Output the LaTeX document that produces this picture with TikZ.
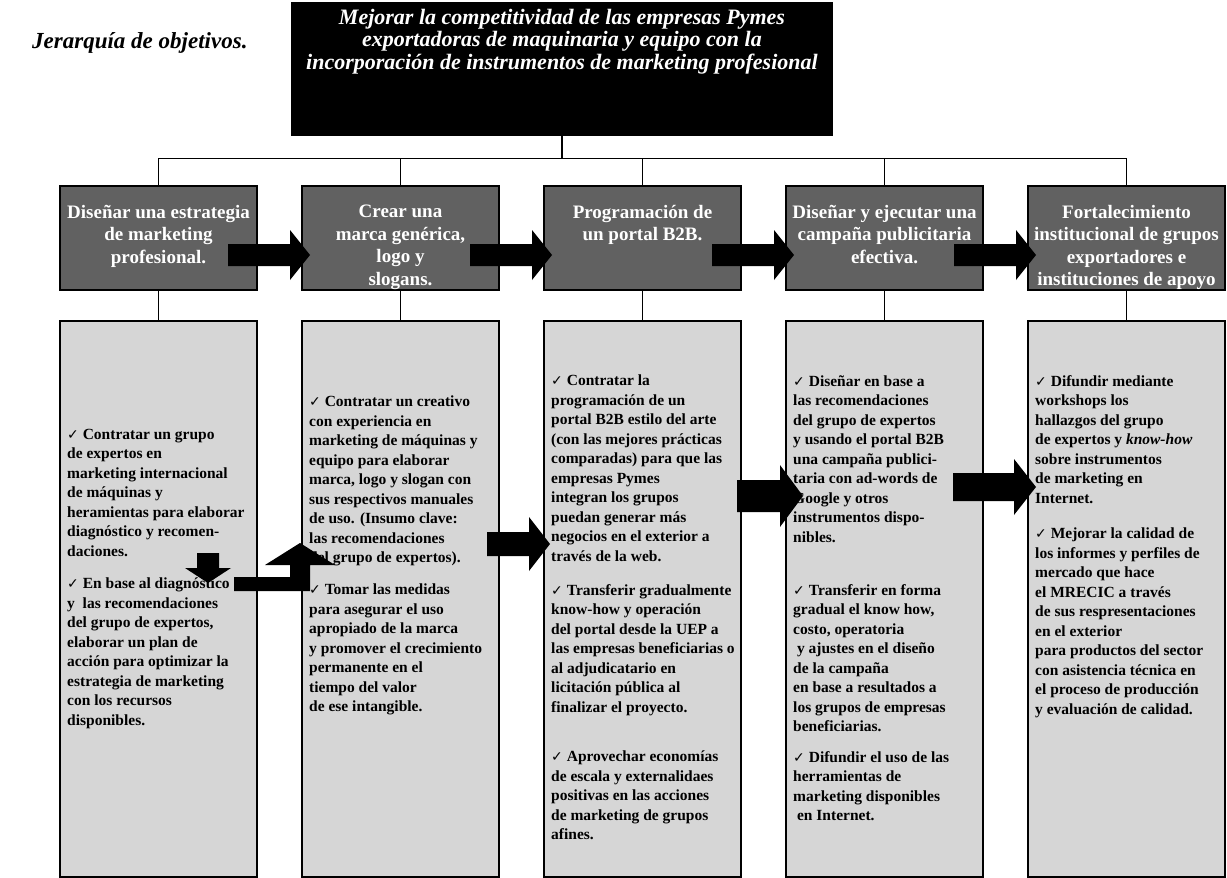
\documentclass[tikz,border=0pt]{standalone}
\usepackage{fontspec}
\setmainfont{Liberation Serif}
\newfontfamily\symfont{DejaVu Sans}
\usepackage{xcolor}
\usepackage{tikz}
\usetikzlibrary{positioning, calc}

\definecolor{headgray}{gray}{0.38}
\definecolor{bodygray}{gray}{0.84}

\newcommand{\chk}{{\symfont\fontsize{14}{14}\selectfont ✓}\ }
% thick block arrow from #1 to tip #2 (same height): shaft and head half-heights, head length
\newcommand{\fatarrow}[5]{%
  \fill ($(#1)+(0,-#3)$) -- ($(#2)+(-#5,-#3)$) -- ($(#2)+(-#5,-#4)$) -- (#2)
    -- ($(#2)+(-#5,#4)$) -- ($(#2)+(-#5,#3)$) -- ($(#1)+(0,#3)$) -- cycle;}

\begin{document}
\begin{tikzpicture}[
  x=1pt, y=-1pt,
  node distance = 45pt,
  goalbox/.style = {draw, fill=black, minimum width=541pt, minimum height=133pt, inner sep=0pt},
  goaltext/.style = {text=white, font=\bfseries\itshape\fontsize{22}{22.5}\selectfont, align=center, inner sep=0pt, anchor=north},
  headbox/.style = {draw, line width=2.5pt, fill=headgray, minimum width=197pt, minimum height=104pt, inner sep=0pt, outer sep=0pt},
  headtext/.style = {text=white, font=\bfseries\fontsize{19}{22.5}\selectfont, align=center, inner sep=0pt, anchor=north},
  bodybox/.style = {draw, line width=1.5pt, fill=bodygray, minimum width=197pt, minimum height=556pt, inner sep=0pt, outer sep=0pt},
  bodytext/.style = {font=\bfseries\fontsize{15.5}{19.5}\selectfont, align=left, inner sep=0pt, anchor=north west},
  link/.style = {draw, line width=1.3pt}
  ]
 \useasboundingbox (0,0) rectangle (1227,878);
 % Title
 \node[font=\bfseries\itshape\fontsize{23}{26}\selectfont, anchor=west, inner sep=0pt] (title) at (32,43) {Jerarquía de objetivos.};
 % Goal box
 \node[goalbox, anchor=north] (goal) at (562,2) {};
 \node[goaltext] (goaltxt) at ($(goal.north)+(0,7)$)
  {Mejorar la competitividad de las empresas Pymes\\
  exportadoras de maquinaria y equipo con la\\
  incorporación de instrumentos de marketing profesional};
 % Component boxes
 \node[headbox, anchor=north west] (h1) at (60,186) {};
 \node[headbox, right=of h1] (h2) {};
 \node[headbox, right=of h2] (h3) {};
 \node[headbox, right=of h3] (h4) {};
 \node[headbox, right=of h4] (h5) {};
 \node[headtext] (h1txt) at ($(h1.north)+(0,19)$) {Diseñar una estrategia\\ de marketing\\ profesional.};
 \node[headtext] (h2txt) at ($(h2.north)+(0,19)$) {Crear una\\ marca genérica,\\ logo y\\ slogans.};
 \node[headtext] (h3txt) at ($(h3.north)+(0,19)$) {Programación de\\ un portal B2B.};
 \node[headtext] (h4txt) at ($(h4.north)+(0,19)$) {Diseñar y ejecutar una\\ campaña publicitaria\\ efectiva.};
 \node[headtext] (h5txt) at ($(h5.north)+(0,19)$) {Fortalecimiento\\ institucional de grupos\\ exportadores e\\ instituciones de apoyo};
 % Activity boxes
 \node[bodybox, anchor=north west] (b1) at (60,321) {};
 \node[bodybox, right=of b1] (b2) {};
 \node[bodybox, right=of b2] (b3) {};
 \node[bodybox, right=of b3] (b4) {};
 \node[bodybox, right=of b4] (b5) {};
 % Connectors
 \coordinate (bus) at ($(goal.south)+(0,23)$);
 \draw[link] (goal.south) -- (bus);
 \draw[link] (h1.north) |- (bus) -| (h5.north);
 \foreach \i in {2,3,4} \draw[link] (h\i.north) -- (h\i.north |- bus);
 \foreach \i in {1,...,5} \draw[link] (h\i.south) -- (b\i.north);
 % Activities
 \node[bodytext] (b1p1) at ($(b1.north west)+(7,108)$)
  {\chk Contratar un grupo\\ de expertos en\\ marketing internacional\\ de máquinas y\\ heramientas para elaborar\\ diagnóstico y recomen-\\ daciones.};
 \node[bodytext] (b1p2) at ($(b1.north west)+(7,257)$)
  {\chk En base al diagnóstico\\ y\ \ las recomendaciones\\ del grupo de expertos,\\ elaborar un plan de\\ acción para optimizar la\\ estrategia de marketing\\ con los recursos\\ disponibles.};
 \node[bodytext] (b2p1) at ($(b2.north west)+(7,75)$)
  {\chk Contratar un creativo\\ con experiencia en\\ marketing de máquinas y\\ equipo para elaborar\\ marca, logo y slogan con\\ sus respectivos manuales\\ de uso. (Insumo clave:\\ las recomendaciones\\ del grupo de expertos).};
 \node[bodytext] (b2p2) at ($(b2.north west)+(7,263)$)
  {\chk Tomar las medidas\\ para asegurar el uso\\ apropiado de la marca\\ y promover el crecimiento\\ permanente en el\\ tiempo del valor\\ de ese intangible.};
 \node[bodytext] (b3p1) at ($(b3.north west)+(7,54)$)
  {\chk Contratar la\\ programación de un\\ portal B2B estilo del arte\\ (con las mejores prácticas\\ comparadas) para que las\\ empresas Pymes\\ integran los grupos\\ puedan generar más\\ negocios en el exterior a\\ través de la web.};
 \node[bodytext] (b3p2) at ($(b3.north west)+(7,263)$)
  {\chk Transferir gradualmente\\ know-how y operación\\ del portal desde la UEP a\\ las empresas beneficiarias o\\ al adjudicatario en\\ licitación pública al\\ finalizar el proyecto.};
 \node[bodytext] (b3p3) at ($(b3.north west)+(7,430)$)
  {\chk Aprovechar economías\\ de escala y externalidaes\\ positivas en las acciones\\ de marketing de grupos\\ afines.};
 \node[bodytext] (b4p1) at ($(b4.north west)+(7,54)$)
  {\chk Diseñar en base a\\ las recomendaciones\\ del grupo de expertos\\ y usando el portal B2B\\ una campaña publici-\\ taria con ad-words de\\ Google y otros\\ instrumentos dispo-\\ nibles.};
 \node[bodytext] (b4p2) at ($(b4.north west)+(7,263)$)
  {\chk Transferir en forma\\ gradual el know how,\\ costo, operatoria\\ \ y ajustes en el diseño\\ de la campaña\\ en base a resultados a\\ los grupos de empresas\\ beneficiarias.};
 \node[bodytext] (b4p3) at ($(b4.north west)+(7,430)$)
  {\chk Difundir el uso de las\\ herramientas de\\ marketing disponibles\\ \ en Internet.};
 \node[bodytext] (b5p1) at ($(b5.north west)+(7,54)$)
  {\chk Difundir mediante\\ workshops los\\ hallazgos del grupo\\ de expertos y \textit{know-how}\\ sobre instrumentos\\ de marketing en\\ Internet.};
 \node[bodytext] (b5p2) at ($(b5.north west)+(7,207)$)
  {\chk Mejorar la calidad de\\ los informes y perfiles de\\ mercado que hace\\ el MRECIC a través\\ de sus respresentaciones\\ en el exterior\\ para productos del sector\\ con asistencia técnica en\\ el proceso de producción\\ y evaluación de calidad.};
 % Block arrows between components
 \foreach \i [count=\j from 2] in {1,...,4} {
  \coordinate (s\i) at ($(h\i.east)+(-29,17)$);
  \coordinate (t\i) at ($(h\j.west)+(8,17)$);
  \fatarrow{s\i}{t\i}{11}{25}{20}
 }
 % Block arrows between activities
 \coordinate (u2) at ($(b2.north east)+(-12,223)$);
 \coordinate (v2) at ($(b3.north west)+(6,223)$);
 \fatarrow{u2}{v2}{12}{27}{21}
 \coordinate (u3) at ($(b3.north east)+(-4,175)$);
 \coordinate (v3) at ($(b4.north west)+(17,175)$);
 \fatarrow{u3}{v3}{16}{31}{23}
 \coordinate (u4) at ($(b4.north east)+(-30,166)$);
 \coordinate (v4) at ($(b5.north west)+(8,166)$);
 \fatarrow{u4}{v4}{14}{28}{22}
 % Step arrow inside the first box and bent arrow to the second
 \coordinate (d1) at ($(b1.north west)+(148,232)$);
 \fill (d1) ++(-11,0) -- ++(22,0) -- ++(0,15) -- ++(12,0) -- ++(-23,15) -- ++(-23,-15) -- ++(12,0) -- cycle;
 \coordinate (e1) at ($(b1.north west)+(174,256)$);
 \fill (e1) -- ++(56,0) -- ++(0,-12) -- ++(-25,0) -- ++(35,-22) -- ++(35,22) -- ++(-25,0) -- ++(0,26) -- ++(-76,0) -- cycle;
\end{tikzpicture}
\end{document}
